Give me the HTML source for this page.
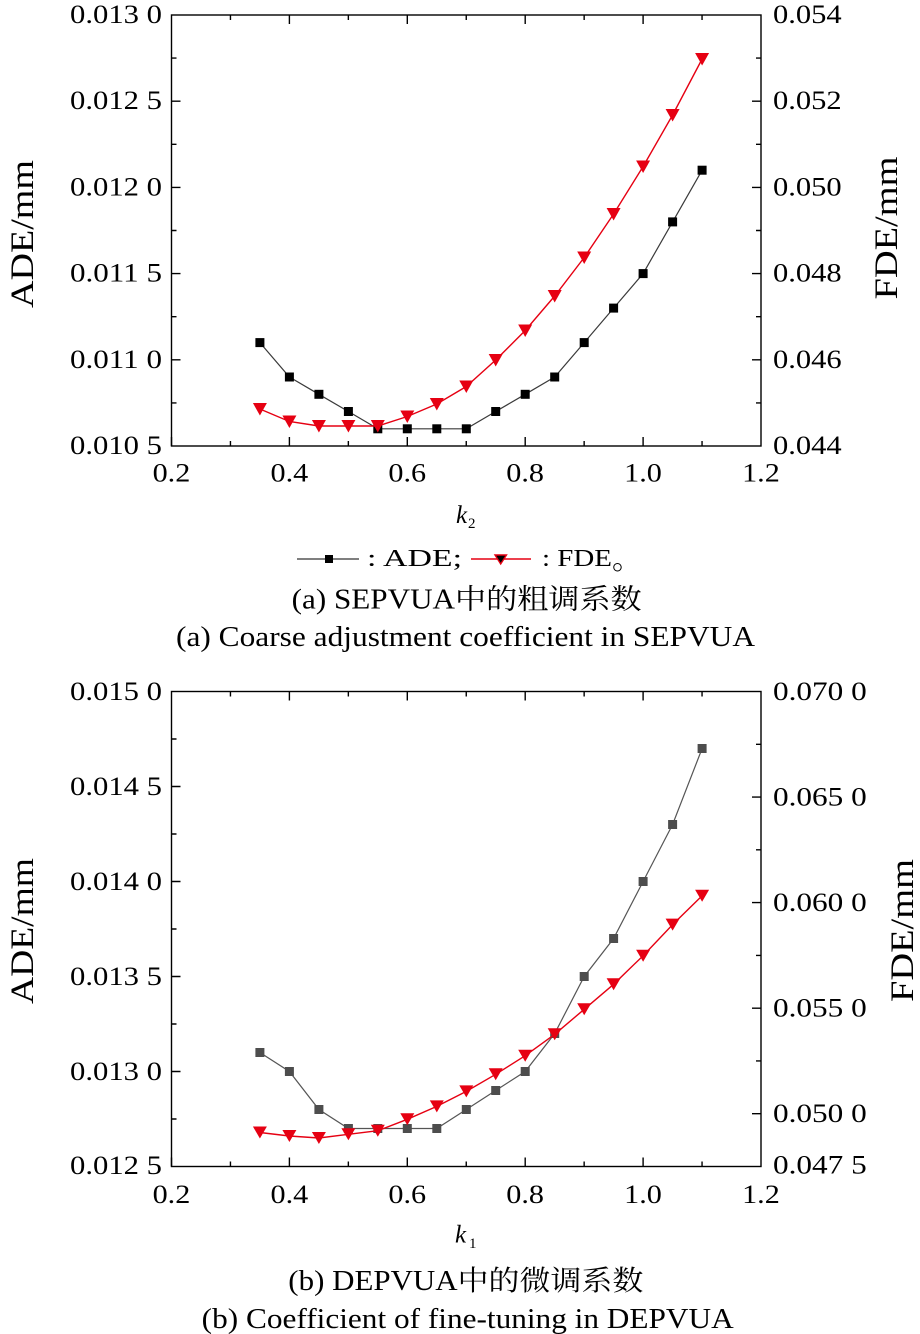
<!DOCTYPE html>
<html>
<head>
<meta charset="utf-8">
<style>
  html,body{margin:0;padding:0;background:#fff;}
  svg{display:block;}
  text{font-family:"Liberation Serif","Noto Serif CJK SC",serif;fill:#000;}
</style>
</head>
<body>
<svg width="920" height="1334" viewBox="0 0 920 1334" xmlns="http://www.w3.org/2000/svg">
  <rect x="0" y="0" width="920" height="1334" fill="#fff"/>

  <!-- ================= TOP CHART ================= -->
  <g stroke="#000" stroke-width="1.4" fill="none">
    <rect x="171.5" y="15" width="589.5" height="431"/>
    <path d="M171.5 446v-9 M230.45 446v-5 M289.4 446v-9 M348.35 446v-5 M407.3 446v-9 M466.25 446v-5 M525.2 446v-9 M584.15 446v-5 M643.1 446v-9 M702.05 446v-5"/>
    <path d="M230.45 15v5 M289.4 15v9 M348.35 15v5 M407.3 15v9 M466.25 15v5 M525.2 15v9 M584.15 15v5 M643.1 15v9 M702.05 15v5"/>
    <path d="M171.5 101.2h9 M171.5 187.4h9 M171.5 273.6h9 M171.5 359.8h9 M171.5 58.1h5 M171.5 144.3h5 M171.5 230.5h5 M171.5 316.7h5 M171.5 402.9h5"/>
    <path d="M761 101.2h-9 M761 187.4h-9 M761 273.6h-9 M761 359.8h-9 M761 58.1h-5 M761 144.3h-5 M761 230.5h-5 M761 316.7h-5 M761 402.9h-5"/>
  </g>

  <g font-size="26.5">
    <text x="70" y="23" textLength="92" lengthAdjust="spacingAndGlyphs">0.013 0</text>
    <text x="70" y="109.2" textLength="92" lengthAdjust="spacingAndGlyphs">0.012 5</text>
    <text x="70" y="195.4" textLength="92" lengthAdjust="spacingAndGlyphs">0.012 0</text>
    <text x="70" y="281.6" textLength="92" lengthAdjust="spacingAndGlyphs">0.011 5</text>
    <text x="70" y="367.8" textLength="92" lengthAdjust="spacingAndGlyphs">0.011 0</text>
    <text x="70" y="454" textLength="92" lengthAdjust="spacingAndGlyphs">0.010 5</text>
  </g>
  <g font-size="26.5">
    <text x="773" y="23" textLength="68.7" lengthAdjust="spacingAndGlyphs">0.054</text>
    <text x="773" y="109.2" textLength="68.7" lengthAdjust="spacingAndGlyphs">0.052</text>
    <text x="773" y="195.4" textLength="68.7" lengthAdjust="spacingAndGlyphs">0.050</text>
    <text x="773" y="281.6" textLength="68.7" lengthAdjust="spacingAndGlyphs">0.048</text>
    <text x="773" y="367.8" textLength="68.7" lengthAdjust="spacingAndGlyphs">0.046</text>
    <text x="773" y="454" textLength="68.7" lengthAdjust="spacingAndGlyphs">0.044</text>
  </g>
  <g font-size="26.5">
    <text x="152.6" y="481.5" textLength="37.7" lengthAdjust="spacingAndGlyphs">0.2</text>
    <text x="270.5" y="481.5" textLength="37.7" lengthAdjust="spacingAndGlyphs">0.4</text>
    <text x="388.4" y="481.5" textLength="37.7" lengthAdjust="spacingAndGlyphs">0.6</text>
    <text x="506.3" y="481.5" textLength="37.7" lengthAdjust="spacingAndGlyphs">0.8</text>
    <text x="624.2" y="481.5" textLength="37.7" lengthAdjust="spacingAndGlyphs">1.0</text>
    <text x="742.1" y="481.5" textLength="37.7" lengthAdjust="spacingAndGlyphs">1.2</text>
  </g>
  <text font-size="33" transform="translate(33,308) rotate(-90)" textLength="148" lengthAdjust="spacingAndGlyphs">ADE/mm</text>
  <text font-size="33" transform="translate(897,299.5) rotate(-90)" textLength="143" lengthAdjust="spacingAndGlyphs">FDE/mm</text>
  <text x="456" y="523" font-size="25" font-style="italic">k</text>
  <text x="468" y="528" font-size="15">2</text>

  <polyline fill="none" stroke="#3a3a3a" stroke-width="1.2"
    points="259.9,342.6 289.4,377.0 318.9,394.3 348.4,411.5 377.8,428.8 407.3,428.8 436.8,428.8 466.3,428.8 495.7,411.5 525.2,394.3 554.7,377.0 584.2,342.6 613.6,308.1 643.1,273.6 672.6,221.9 702.1,170.2"/>
  <g fill="#000">
    <rect x="255.4" y="338.1" width="9" height="9"/>
    <rect x="284.9" y="372.5" width="9" height="9"/>
    <rect x="314.4" y="389.8" width="9" height="9"/>
    <rect x="343.9" y="407" width="9" height="9"/>
    <rect x="373.3" y="424.3" width="9" height="9"/>
    <rect x="402.8" y="424.3" width="9" height="9"/>
    <rect x="432.3" y="424.3" width="9" height="9"/>
    <rect x="461.8" y="424.3" width="9" height="9"/>
    <rect x="491.2" y="407" width="9" height="9"/>
    <rect x="520.7" y="389.8" width="9" height="9"/>
    <rect x="550.2" y="372.5" width="9" height="9"/>
    <rect x="579.7" y="338.1" width="9" height="9"/>
    <rect x="609.1" y="303.6" width="9" height="9"/>
    <rect x="638.6" y="269.1" width="9" height="9"/>
    <rect x="668.1" y="217.4" width="9" height="9"/>
    <rect x="697.6" y="165.7" width="9" height="9"/>
  </g>
  <polyline fill="none" stroke="#e60012" stroke-width="1.4"
    points="259.9,409 289.4,421.5 318.9,426 348.4,426 377.8,426 407.3,416.5 436.8,404 466.3,386.5 495.7,360 525.2,330.5 554.7,296 584.2,257.5 613.6,214 643.1,166.5 672.6,115 702.1,59"/>
  <g fill="#e60012">
    <polygon points="252.9,403 266.9,403 259.9,415.5"/>
    <polygon points="282.4,415.5 296.4,415.5 289.4,428"/>
    <polygon points="311.9,420 325.9,420 318.9,432.5"/>
    <polygon points="341.4,420 355.4,420 348.4,432.5"/>
    <polygon points="370.8,420 384.8,420 377.8,432.5"/>
    <polygon points="400.3,410.5 414.3,410.5 407.3,423"/>
    <polygon points="429.8,398 443.8,398 436.8,410.5"/>
    <polygon points="459.3,380.5 473.3,380.5 466.3,393"/>
    <polygon points="488.7,354 502.7,354 495.7,366.5"/>
    <polygon points="518.2,324.5 532.2,324.5 525.2,337"/>
    <polygon points="547.7,290 561.7,290 554.7,302.5"/>
    <polygon points="577.2,251.5 591.2,251.5 584.2,264"/>
    <polygon points="606.6,208 620.6,208 613.6,220.5"/>
    <polygon points="636.1,160.5 650.1,160.5 643.1,173"/>
    <polygon points="665.6,109 679.6,109 672.6,121.5"/>
    <polygon points="695.1,53 709.1,53 702.1,65.5"/>
  </g>

  <!-- legend -->
  <line x1="297" y1="559" x2="359" y2="559" stroke="#333" stroke-width="1.3"/>
  <rect x="325" y="555" width="8" height="8" fill="#000"/>
  <text x="367" y="566" font-size="24" textLength="95" lengthAdjust="spacingAndGlyphs">: ADE;</text>
  <line x1="471" y1="559" x2="531" y2="559" stroke="#e60012" stroke-width="1.4"/>
  <polygon points="495,555 506.5,555 500.7,564" fill="#000" stroke="#e60012" stroke-width="1.4"/>
  <text x="542" y="566" font-size="24" textLength="70" lengthAdjust="spacingAndGlyphs">: FDE</text>
  <text x="612" y="569" font-size="30">。</text>

  <text x="291.7" y="608.3" font-size="28" textLength="350" lengthAdjust="spacingAndGlyphs">(a) SEPVUA中的粗调系数</text>
  <text x="176" y="646" font-size="28" textLength="579" lengthAdjust="spacingAndGlyphs">(a) Coarse adjustment coefficient in SEPVUA</text>

  <!-- ================= BOTTOM CHART ================= -->
  <g stroke="#000" stroke-width="1.4" fill="none">
    <rect x="171.5" y="691.5" width="589.5" height="475"/>
    <path d="M171.5 1166.5v-9 M230.45 1166.5v-5 M289.4 1166.5v-9 M348.35 1166.5v-5 M407.3 1166.5v-9 M466.25 1166.5v-5 M525.2 1166.5v-9 M584.15 1166.5v-5 M643.1 1166.5v-9 M702.05 1166.5v-5"/>
    <path d="M230.45 691.5v5 M289.4 691.5v9 M348.35 691.5v5 M407.3 691.5v9 M466.25 691.5v5 M525.2 691.5v9 M584.15 691.5v5 M643.1 691.5v9 M702.05 691.5v5"/>
    <path d="M171.5 786.5h9 M171.5 881.5h9 M171.5 976.5h9 M171.5 1071.5h9 M171.5 739h5 M171.5 834h5 M171.5 929h5 M171.5 1024h5 M171.5 1119h5"/>
    <path d="M761 797.1h-9 M761 902.6h-9 M761 1008.2h-9 M761 1113.7h-9 M761 744.3h-5 M761 849.8h-5 M761 955.4h-5 M761 1060.9h-5"/>
  </g>
  <g font-size="26.5">
    <text x="70" y="700" textLength="92" lengthAdjust="spacingAndGlyphs">0.015 0</text>
    <text x="70" y="795" textLength="92" lengthAdjust="spacingAndGlyphs">0.014 5</text>
    <text x="70" y="890" textLength="92" lengthAdjust="spacingAndGlyphs">0.014 0</text>
    <text x="70" y="985" textLength="92" lengthAdjust="spacingAndGlyphs">0.013 5</text>
    <text x="70" y="1080" textLength="92" lengthAdjust="spacingAndGlyphs">0.013 0</text>
    <text x="70" y="1174" textLength="92" lengthAdjust="spacingAndGlyphs">0.012 5</text>
  </g>
  <g font-size="26.5">
    <text x="773" y="700" textLength="93.7" lengthAdjust="spacingAndGlyphs">0.070 0</text>
    <text x="773" y="805.6" textLength="93.7" lengthAdjust="spacingAndGlyphs">0.065 0</text>
    <text x="773" y="911.1" textLength="93.7" lengthAdjust="spacingAndGlyphs">0.060 0</text>
    <text x="773" y="1016.7" textLength="93.7" lengthAdjust="spacingAndGlyphs">0.055 0</text>
    <text x="773" y="1122.2" textLength="93.7" lengthAdjust="spacingAndGlyphs">0.050 0</text>
    <text x="773" y="1173.6" textLength="93.7" lengthAdjust="spacingAndGlyphs">0.047 5</text>
  </g>
  <g font-size="26.5">
    <text x="152.6" y="1203" textLength="37.7" lengthAdjust="spacingAndGlyphs">0.2</text>
    <text x="270.5" y="1203" textLength="37.7" lengthAdjust="spacingAndGlyphs">0.4</text>
    <text x="388.4" y="1203" textLength="37.7" lengthAdjust="spacingAndGlyphs">0.6</text>
    <text x="506.3" y="1203" textLength="37.7" lengthAdjust="spacingAndGlyphs">0.8</text>
    <text x="624.2" y="1203" textLength="37.7" lengthAdjust="spacingAndGlyphs">1.0</text>
    <text x="742.1" y="1203" textLength="37.7" lengthAdjust="spacingAndGlyphs">1.2</text>
  </g>
  <text font-size="33" transform="translate(33,1004) rotate(-90)" textLength="146" lengthAdjust="spacingAndGlyphs">ADE/mm</text>
  <text font-size="33" transform="translate(913,1002) rotate(-90)" textLength="143" lengthAdjust="spacingAndGlyphs">FDE/mm</text>
  <text x="455" y="1242.7" font-size="25" font-style="italic">k</text>
  <text x="469" y="1248" font-size="15">1</text>

  <polyline fill="none" stroke="#555" stroke-width="1.2"
    points="259.9,1052.5 289.4,1071.5 318.9,1109.5 348.4,1128.5 377.8,1128.5 407.3,1128.5 436.8,1128.5 466.3,1109.5 495.7,1090.5 525.2,1071.5 554.7,1033.5 584.2,976.5 613.6,938.5 643.1,881.5 672.6,824.5 702.1,748.5"/>
  <g fill="#4d4d4d">
    <rect x="255.4" y="1048" width="9" height="9"/>
    <rect x="284.9" y="1067" width="9" height="9"/>
    <rect x="314.4" y="1105" width="9" height="9"/>
    <rect x="343.9" y="1124" width="9" height="9"/>
    <rect x="373.3" y="1124" width="9" height="9"/>
    <rect x="402.8" y="1124" width="9" height="9"/>
    <rect x="432.3" y="1124" width="9" height="9"/>
    <rect x="461.8" y="1105" width="9" height="9"/>
    <rect x="491.2" y="1086" width="9" height="9"/>
    <rect x="520.7" y="1067" width="9" height="9"/>
    <rect x="550.2" y="1029" width="9" height="9"/>
    <rect x="579.7" y="972" width="9" height="9"/>
    <rect x="609.1" y="934" width="9" height="9"/>
    <rect x="638.6" y="877" width="9" height="9"/>
    <rect x="668.1" y="820" width="9" height="9"/>
    <rect x="697.6" y="744" width="9" height="9"/>
  </g>
  <polyline fill="none" stroke="#e60012" stroke-width="1.4"
    points="259.9,1132.5 289.4,1136 318.9,1138 348.4,1134.3 377.8,1130.7 407.3,1119.3 436.8,1106.4 466.3,1091.4 495.7,1074.3 525.2,1055.7 554.7,1034.3 584.2,1009.3 613.6,984.3 643.1,955.7 672.6,924.6 702.1,895.7"/>
  <g fill="#e60012">
    <polygon points="252.9,1126.5 266.9,1126.5 259.9,1138.5"/>
    <polygon points="282.4,1130 296.4,1130 289.4,1142"/>
    <polygon points="311.9,1132 325.9,1132 318.9,1144"/>
    <polygon points="341.4,1128.3 355.4,1128.3 348.4,1140.3"/>
    <polygon points="370.8,1124.7 384.8,1124.7 377.8,1136.7"/>
    <polygon points="400.3,1113.3 414.3,1113.3 407.3,1125.3"/>
    <polygon points="429.8,1100.4 443.8,1100.4 436.8,1112.4"/>
    <polygon points="459.3,1085.4 473.3,1085.4 466.3,1097.4"/>
    <polygon points="488.7,1068.3 502.7,1068.3 495.7,1080.3"/>
    <polygon points="518.2,1049.7 532.2,1049.7 525.2,1061.7"/>
    <polygon points="547.7,1028.3 561.7,1028.3 554.7,1040.3"/>
    <polygon points="577.2,1003.3 591.2,1003.3 584.2,1015.3"/>
    <polygon points="606.6,978.3 620.6,978.3 613.6,990.3"/>
    <polygon points="636.1,949.7 650.1,949.7 643.1,961.7"/>
    <polygon points="665.6,918.6 679.6,918.6 672.6,930.6"/>
    <polygon points="695.1,889.7 709.1,889.7 702.1,901.7"/>
  </g>

  <text x="288.3" y="1290" font-size="28" textLength="355" lengthAdjust="spacingAndGlyphs">(b) DEPVUA中的微调系数</text>
  <text x="201.7" y="1328" font-size="28" textLength="532" lengthAdjust="spacingAndGlyphs">(b) Coefficient of fine-tuning in DEPVUA</text>
</svg>
</body>
</html>
